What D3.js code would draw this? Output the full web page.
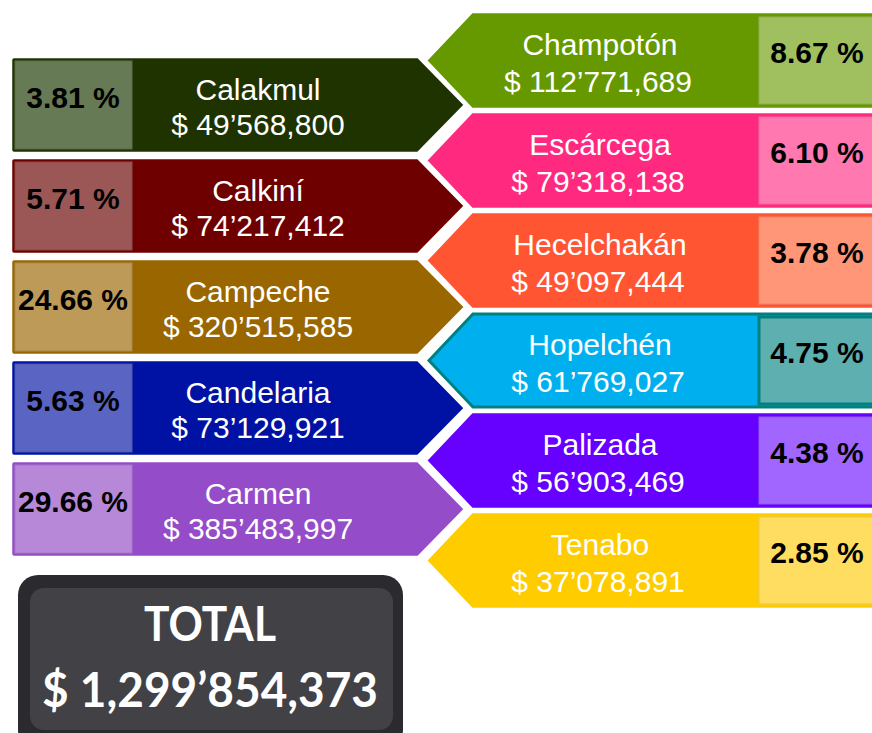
<!DOCTYPE html>
<html>
<head>
<meta charset="utf-8">
<script src="https://cdn.jsdelivr.net/npm/d3@7"></script>
<style>
  html, body { margin: 0; padding: 0; background: #fff; }
</style>
</head>
<body>
<script>
// datos por municipio
const leftNames = ['Calakmul', 'Calkiní', 'Campeche', 'Candelaria', 'Carmen'];
const leftAmounts = [49568800, 74217412, 320515585, 73129921, 385483997];
const leftPct = [3.81, 5.71, 24.66, 5.63, 29.66];
const leftColors = ['#1e3300', '#6e0000', '#996600', '#0012a3', '#944cc8'];
const leftBoxColors = ['#667a56', '#9b5656', '#bd9a58', '#5a64c2', '#b788d8'];

const rightNames = ['Champotón', 'Escárcega', 'Hecelchakán', 'Hopelchén', 'Palizada', 'Tenabo'];
const rightAmounts = [112771689, 79318138, 49097444, 61769027, 56903469, 37078891];
const rightPct = [8.67, 6.10, 3.78, 4.75, 4.38, 2.85];
const rightColors = ['#669900', '#ff2a7f', '#ff5533', '#00b0ee', '#6600ff', '#ffcc00'];
const rightBoxColors = ['#a0c060', '#ff78b0', '#ff9677', '#5eb0b0', '#a066ff', '#ffdd60'];
const rightBorders = [null, null, null, '#008080', null, null];

const totalAmount = 1299854373;

const width = 872; // ancho
const height = 733; // alto

const svg = d3.select('body').append('svg')
    .attr('width', width)
    .attr('height', height)
    .style('display', 'block');

// formato "$ 49’568,800" (millones con ’)
function money(v) {
    const s = d3.format(',')(v).split(',');
    let out = s[0];
    for (let i = 1; i < s.length; i++) {
        out += (s.length - i === 2 ? '’' : ',') + s[i];
    }
    return '$ ' + out;
}

const font = '"Liberation Sans", Arial, sans-serif';

// escalas de filas
const yLeft = d3.scaleBand().domain(leftNames).range([57, 557]).paddingInner(0.05);
const yRight = d3.scaleBand().domain(rightNames).range([12, 609]).paddingInner(0.03);

// columna izquierda: flechas hacia la derecha
const xL0 = 11, xL1 = 418, xLTip = 465;
const left = svg.append('g').selectAll('g')
    .data(leftNames.map((n, i) => ({ n, i })))
    .join('g');

left.append('path')
    .attr('d', d => {
        const y0 = yLeft(d.n), y1 = y0 + yLeft.bandwidth(), yc = (y0 + y1) / 2;
        return `M${xL0 + 3},${y0}L${xL1},${y0}L${xLTip},${yc}L${xL1},${y1}L${xL0 + 3},${y1}Q${xL0},${y1} ${xL0},${y1 - 3}L${xL0},${y0 + 3}Q${xL0},${y0} ${xL0 + 3},${y0}Z`;
    })
    .style('fill', d => leftColors[d.i])
    .style('stroke', '#fff')
    .style('stroke-width', 2.5);

left.append('rect')
    .attr('x', 15)
    .attr('y', d => yLeft(d.n) + 4)
    .attr('width', 117)
    .attr('height', yLeft.bandwidth() - 8)
    .style('fill', d => leftBoxColors[d.i])
    .style('stroke', d => d3.color(leftBoxColors[d.i]).darker(0.3))
    .style('stroke-width', 1);

left.append('text')
    .attr('x', 73)
    .attr('y', d => yLeft(d.n) + yLeft.bandwidth() / 2 + 3)
    .attr('text-anchor', 'middle')
    .style('font-family', font)
    .style('font-weight', 'bold')
    .style('font-size', '30px')
    .style('fill', '#000')
    .text(d => leftPct[d.i].toFixed(2) + ' %');

left.append('text')
    .attr('x', 258)
    .attr('y', d => yLeft(d.n) + yLeft.bandwidth() / 2 - 5)
    .attr('text-anchor', 'middle')
    .style('font-family', font)
    .style('font-size', '30px')
    .style('fill', '#fff')
    .text(d => d.n);

left.append('text')
    .attr('x', 258)
    .attr('y', d => yLeft(d.n) + yLeft.bandwidth() / 2 + 30)
    .attr('text-anchor', 'middle')
    .style('font-family', font)
    .style('font-size', '30px')
    .style('fill', '#fff')
    .text(d => money(leftAmounts[d.i]));

// columna derecha: flechas hacia la izquierda
const xRTip = 426, xR1 = 472, xR2 = 900;
const right = svg.append('g').selectAll('g')
    .data(rightNames.map((n, i) => ({ n, i })))
    .join('g');

right.append('path')
    .attr('d', d => {
        const y0 = yRight(d.n), y1 = y0 + yRight.bandwidth(), yc = (y0 + y1) / 2;
        return `M${xRTip},${yc}L${xR1},${y0}L${xR2},${y0}L${xR2},${y1}L${xR1},${y1}Z`;
    })
    .style('fill', d => rightColors[d.i])
    .style('stroke', '#fff')
    .style('stroke-width', 2.5);

// borde turquesa de Hopelchén
right.filter(d => rightBorders[d.i])
    .append('path')
    .attr('d', d => {
        const y0 = yRight(d.n) + 2, y1 = y0 + yRight.bandwidth() - 4, yc = (y0 + y1) / 2;
        return `M${xRTip + 3},${yc}L${xR1 + 1},${y0}L${xR2},${y0}L${xR2},${y1}L${xR1 + 1},${y1}Z`;
    })
    .style('fill', 'none')
    .style('stroke', d => rightBorders[d.i])
    .style('stroke-width', 3);

right.append('rect')
    .attr('x', 759)
    .attr('y', d => yRight(d.n) + 5)
    .attr('width', 120)
    .attr('height', yRight.bandwidth() - 10)
    .style('fill', d => rightBoxColors[d.i])
    .style('stroke', d => rightBorders[d.i] || d3.color(rightBoxColors[d.i]).darker(0.3))
    .style('stroke-width', d => rightBorders[d.i] ? 3 : 1);

right.append('text')
    .attr('x', 817)
    .attr('y', d => yRight(d.n) + yRight.bandwidth() / 2 + 2)
    .attr('text-anchor', 'middle')
    .style('font-family', font)
    .style('font-weight', 'bold')
    .style('font-size', '30px')
    .style('fill', '#000')
    .text(d => rightPct[d.i].toFixed(2) + ' %');

right.append('text')
    .attr('x', 600)
    .attr('y', d => yRight(d.n) + yRight.bandwidth() / 2 - 6)
    .attr('text-anchor', 'middle')
    .style('font-family', font)
    .style('font-size', '30px')
    .style('fill', '#fff')
    .text(d => d.n);

right.append('text')
    .attr('x', 598)
    .attr('y', d => yRight(d.n) + yRight.bandwidth() / 2 + 31)
    .attr('text-anchor', 'middle')
    .style('font-family', font)
    .style('font-size', '30px')
    .style('fill', '#fff')
    .text(d => money(rightAmounts[d.i]));

// caja del total
const tot = svg.append('g');
tot.append('rect')
    .attr('x', 18).attr('y', 575)
    .attr('width', 385).attr('height', 175)
    .attr('rx', 20)
    .style('fill', '#2b2b2f');
tot.append('rect')
    .attr('x', 30).attr('y', 588)
    .attr('width', 363).attr('height', 142)
    .attr('rx', 14)
    .style('fill', '#414146');
tot.append('text')
    .attr('x', 210).attr('y', 641)
    .attr('text-anchor', 'middle')
    .attr('textLength', 132)
    .attr('lengthAdjust', 'spacingAndGlyphs')
    .style('font-family', 'Lato, "Open Sans", sans-serif')
    .style('font-weight', 'bold')
    .style('font-size', '48px')
    .style('fill', '#fff')
    .text('TOTAL');
tot.append('text')
    .attr('x', 210).attr('y', 707)
    .attr('text-anchor', 'middle')
    .attr('textLength', 336)
    .attr('lengthAdjust', 'spacingAndGlyphs')
    .style('font-family', 'Lato, "Open Sans", sans-serif')
    .style('font-weight', 'bold')
    .style('font-size', '48px')
    .style('fill', '#fff')
    .text('$ 1,' + money(totalAmount).slice(4));
</script>
</body>
</html>
